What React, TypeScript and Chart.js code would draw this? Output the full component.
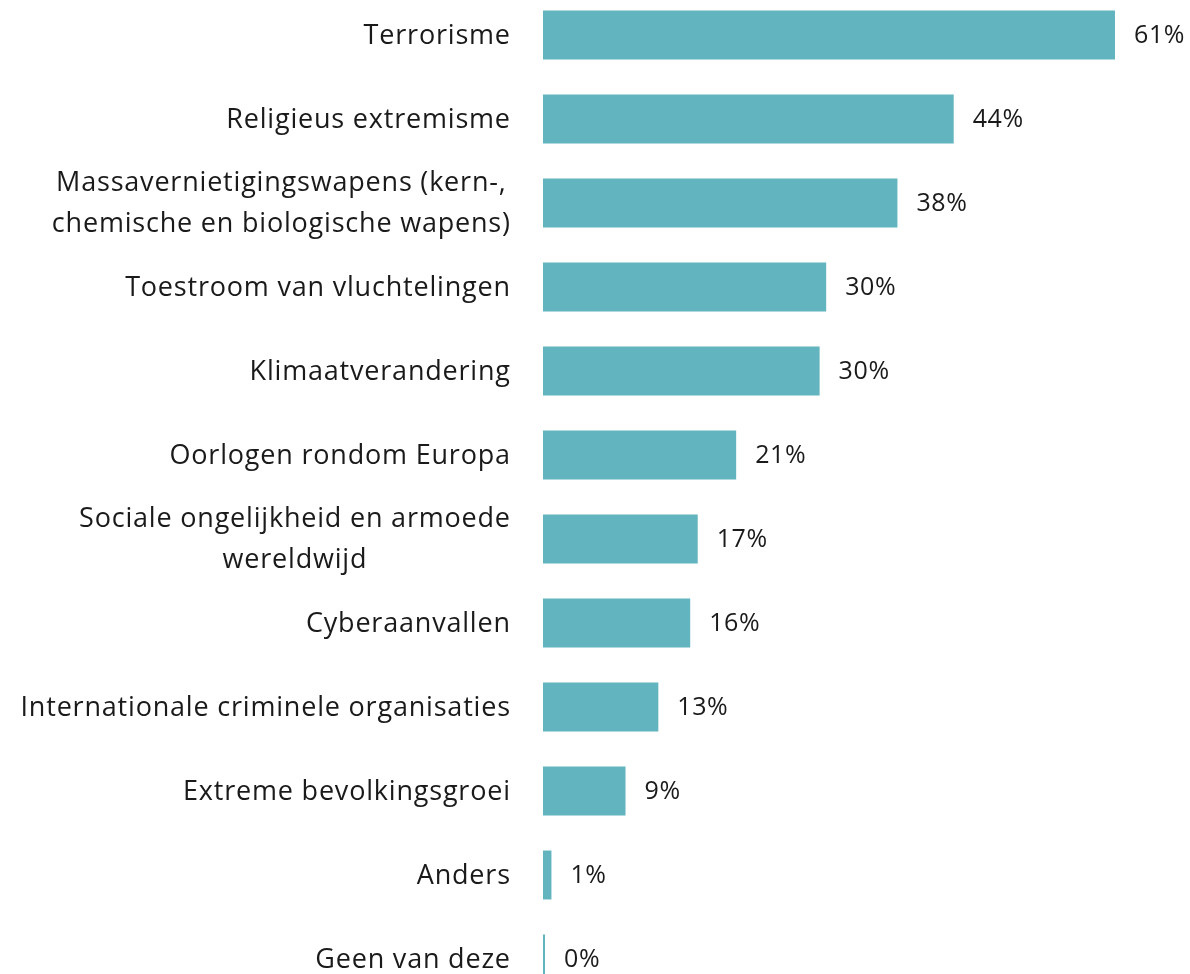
import React, { useEffect, useRef } from "react";
import { Chart, registerables } from "chart.js";

Chart.register(...registerables);

const categories: string[][] = [
  ["Terrorisme"],
  ["Religieus extremisme"],
  ["Massavernietigingswapens (kern-,", "chemische en biologische wapens)"],
  ["Toestroom van vluchtelingen"],
  ["Klimaatverandering"],
  ["Oorlogen rondom Europa"],
  ["Sociale ongelijkheid en armoede", "wereldwijd"],
  ["Cyberaanvallen"],
  ["Internationale criminele organisaties"],
  ["Extreme bevolkingsgroei"],
  ["Anders"],
  ["Geen van deze"],
];
const values: number[] = [61, 43.8, 37.8, 30.2, 29.5, 20.6, 16.5, 15.7, 12.3, 8.8, 0.9, 0];
const valueLabels: string[] = ["61%", "44%", "38%", "30%", "30%", "21%", "17%", "16%", "13%", "9%", "1%", "0%"];

const FONT = "'Open Sans', Lato, sans-serif";
const TEXT = "#1a1a1a";
const BAR = "#62B4BE";

const labelPlugin = {
  id: "customLabels",
  afterDraw(chart: any) {
    const ctx = chart.ctx;
    const yScale = chart.scales.y;
    const meta = chart.getDatasetMeta(0);
    ctx.save();
    ctx.fillStyle = TEXT;
    ctx.textBaseline = "middle";
    ctx.textAlign = "left";
    const rightX = 510;
    const lh = 41;
    ctx.font = `27px ${FONT}`;
    (ctx as any).letterSpacing = "0.8px";
    categories.forEach((lines, i) => {
      const cy = yScale.getPixelForValue(i) + 1;
      const widths = lines.map((l) => ctx.measureText(l).width - 0.8);
      const w = Math.max(...widths);
      const cx = rightX - w / 2;
      const top = cy - ((lines.length - 1) * lh) / 2;
      lines.forEach((l, j) => ctx.fillText(l, cx - widths[j] / 2, top + j * lh));
    });
    ctx.font = `25px ${FONT}`;
    (ctx as any).letterSpacing = "0.6px";
    meta.data.forEach((bar: any, i: number) => {
      ctx.fillText(valueLabels[i], bar.x + 19, bar.y + 1);
    });
    ctx.restore();
  },
};

export default function App() {
  const ref = useRef<HTMLCanvasElement>(null);
  useEffect(() => {
    if (!ref.current) return;
    const chart = new Chart(ref.current, {
      type: "bar",
      data: {
        labels: categories.map((c) => c.join(" ")),
        datasets: [
          {
            data: values,
            backgroundColor: BAR,
            borderWidth: 0,
            barPercentage: 0.583,
            categoryPercentage: 1,
            minBarLength: 2,
          },
        ],
      },
      options: {
        indexAxis: "y",
        animation: false,
        responsive: true,
        maintainAspectRatio: false,
        layout: { padding: 0 },
        plugins: { legend: { display: false }, tooltip: { enabled: false } },
        scales: {
          x: { display: false, min: 0, max: 69 },
          y: {
            grid: { display: false },
            border: { display: false },
            ticks: { display: false },
            afterFit(scale: any) {
              scale.width = 543;
            },
          },
        },
      },
      plugins: [labelPlugin],
    });
    return () => chart.destroy();
  }, []);
  return (
    <div style={{ position: "fixed", left: 0, top: 0, width: 1190, height: 974, overflow: "hidden", background: "#fff" }}>
      <div style={{ position: "absolute", left: 0, top: -7, width: 1190, height: 1008 }}>
        <canvas ref={ref} />
      </div>
    </div>
  );
}
